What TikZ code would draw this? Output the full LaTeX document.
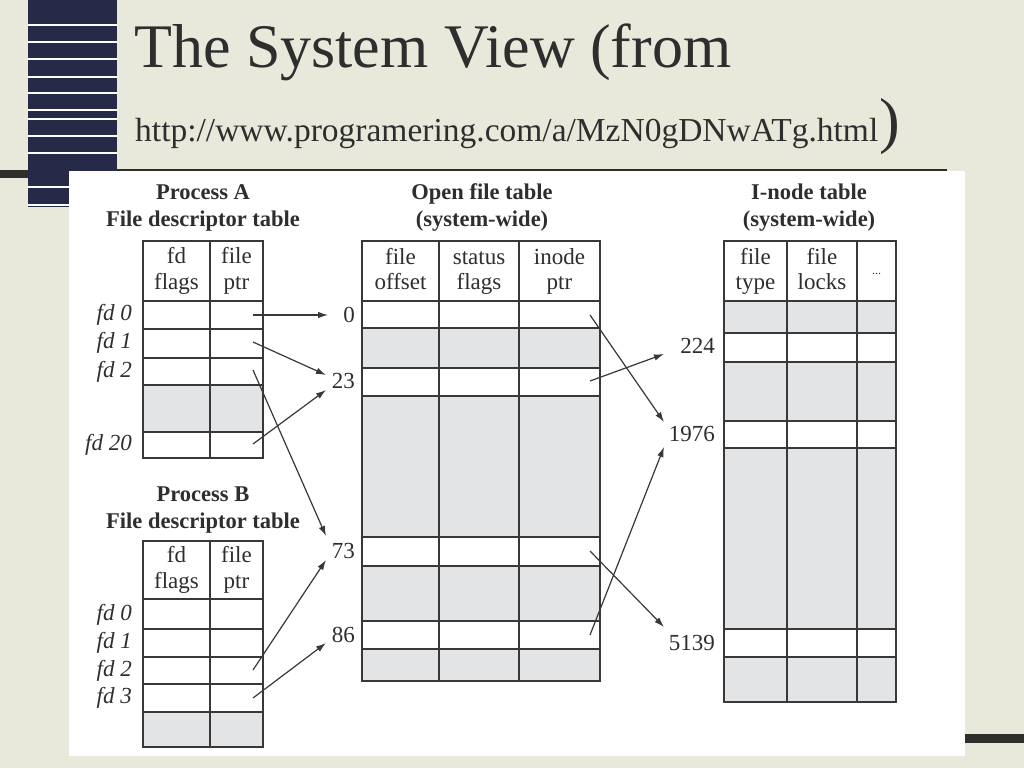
\documentclass[tikz,border=0pt]{standalone}
\usepackage{fontspec}
\newfontfamily\titlefont{Liberation Serif}
\newfontfamily\bodyfont{Liberation Serif}
\usetikzlibrary{arrows.meta}
\definecolor{bgbeige}{HTML}{E8E8DB}
\definecolor{navy}{HTML}{262A48}
\definecolor{ink}{HTML}{383838}
\definecolor{txt}{HTML}{2E2E2E}
\definecolor{cellgrey}{HTML}{E3E4E5}
\definecolor{darkline}{HTML}{2E2E2A}
\tikzset{
  grid/.style={draw=ink, line width=1.3pt},
  border/.style={draw=ink, line width=2.2pt},
  arr/.style={draw=ink, line width=1.2pt, -{Latex[length=10pt,width=6.5pt]}},
  ttl/.style={anchor=base, inner sep=0pt, text=txt, font=\bodyfont\fontsize{22.5}{24}\selectfont\bfseries},
  hd/.style={anchor=base, inner sep=0pt, text=txt, font=\bodyfont\fontsize{23}{25}\selectfont},
  fdl/.style={anchor=base east, inner sep=0pt, text=txt, font=\bodyfont\fontsize{23}{25}\selectfont\itshape},
  num/.style={anchor=base east, inner sep=0pt, text=txt, font=\bodyfont\fontsize{23}{25}\selectfont},
}
\begin{document}
\begin{tikzpicture}[x=1pt,y=-1pt]
\useasboundingbox (0,0) rectangle (1024,768);
% slide background
\fill[bgbeige] (0,0) rectangle (1024,768);
\fill[navy] (28,0) rectangle (117,207);
\foreach \y in {25,42,59,77,93,110,119,136,153,187,205}
  \draw[white, line width=1.2pt] (28,\y) -- (117,\y);
\fill[darkline] (0,170) rectangle (28,178);
\draw[darkline, line width=2pt] (117,170) -- (947,170);
\fill[white] (69,171) rectangle (965,756);
\fill[darkline] (965,734) rectangle (1024,743);
% title
\node[anchor=base west, inner sep=0pt, text=txt, font=\titlefont\fontsize{62}{62}\selectfont] (title) at (134,67) {The System View (from};
\node[anchor=base west, inner sep=0pt, text=txt, font=\titlefont\fontsize{33.5}{34}\selectfont] (url) at (135,141) {http://www.programering.com/a/MzN0gDNwATg.html};
\node[anchor=base west, inner sep=0pt, text=txt, font=\titlefont\fontsize{62}{62}\selectfont, xshift=1pt] (paren) at (url.base east) {)};

% ---------- Process A ----------
\node[ttl] (pA) at (203,199) {Process A};
\node[ttl] (pAt) at (203,226) {File descriptor table};
\fill[white] (143,241) rectangle (263,458);
\fill[cellgrey] (143,385) rectangle (263,432);
\draw[grid] (210,241) -- (210,458);
\foreach \y in {329,358,385,432} \draw[grid] (143,\y) -- (263,\y);
\draw[border] (143,301) -- (263,301);
\draw[border] (143,241) rectangle (263,458);
\node[hd] (pAh1a) at (176.5,263) {fd};
\node[hd] (pAh1b) at (176.5,289) {flags};
\node[hd] (pAh2a) at (236.5,263) {file};
\node[hd] (pAh2b) at (236.5,289) {ptr};
\node[fdl] (pAf0) at (132,320) {fd 0};
\node[fdl] (pAf1) at (132,348) {fd 1};
\node[fdl] (pAf2) at (132,377) {fd 2};
\node[fdl] (pAf20) at (132,450) {fd 20};

% ---------- Process B ----------
\node[ttl] (pB) at (203,501) {Process B};
\node[ttl] (pBt) at (203,528) {File descriptor table};
\fill[white] (143,541) rectangle (263,747);
\fill[cellgrey] (143,712) rectangle (263,747);
\draw[grid] (210,541) -- (210,747);
\foreach \y in {629,657,684,712} \draw[grid] (143,\y) -- (263,\y);
\draw[border] (143,599) -- (263,599);
\draw[border] (143,541) rectangle (263,747);
\node[hd] (pBh1a) at (176.5,562.5) {fd};
\node[hd] (pBh1b) at (176.5,588) {flags};
\node[hd] (pBh2a) at (236.5,562.5) {file};
\node[hd] (pBh2b) at (236.5,588) {ptr};
\node[fdl] (pBf0) at (132,620) {fd 0};
\node[fdl] (pBf1) at (132,648) {fd 1};
\node[fdl] (pBf2) at (132,676) {fd 2};
\node[fdl] (pBf3) at (132,703) {fd 3};

% ---------- Open file table ----------
\node[ttl] (oT) at (482,199) {Open file table};
\node[ttl] (oTt) at (482,226) {(system-wide)};
\fill[white] (362,241) rectangle (600,681);
\fill[cellgrey] (362,328) rectangle (600,368);
\fill[cellgrey] (362,396) rectangle (600,537);
\fill[cellgrey] (362,566) rectangle (600,621);
\fill[cellgrey] (362,649) rectangle (600,681);
\draw[grid] (439,241) -- (439,681);
\draw[grid] (519,241) -- (519,681);
\foreach \y in {328,368,396,537,566,621,649} \draw[grid] (362,\y) -- (600,\y);
\draw[border] (362,301) -- (600,301);
\draw[border] (362,241) rectangle (600,681);
\node[hd] (oh1a) at (400.5,264) {file};
\node[hd] (oh1b) at (400.5,289) {offset};
\node[hd] (oh2a) at (479,264) {status};
\node[hd] (oh2b) at (479,289) {flags};
\node[hd] (oh3a) at (559.5,264) {inode};
\node[hd] (oh3b) at (559.5,289) {ptr};
\node[num] (n0) at (355,322) {0};
\node[num] (n23) at (355,388) {23};
\node[num] (n73) at (355,558) {73};
\node[num] (n86) at (355,642) {86};

% ---------- I-node table ----------
\node[ttl] (iT) at (809,199) {I-node table};
\node[ttl] (iTt) at (809,226) {(system-wide)};
\fill[white] (724,241) rectangle (896,702);
\fill[cellgrey] (724,301) rectangle (896,333);
\fill[cellgrey] (724,362) rectangle (896,421);
\fill[cellgrey] (724,448) rectangle (896,629);
\fill[cellgrey] (724,657) rectangle (896,702);
\draw[grid] (787,241) -- (787,702);
\draw[grid] (857,241) -- (857,702);
\foreach \y in {333,362,421,448,629,657} \draw[grid] (724,\y) -- (896,\y);
\draw[border] (724,301) -- (896,301);
\draw[border] (724,241) rectangle (896,702);
\node[hd] (ih1a) at (755.5,264) {file};
\node[hd] (ih1b) at (755.5,289) {type};
\node[hd] (ih2a) at (822,264) {file};
\node[hd] (ih2b) at (822,289) {locks};
\node[anchor=center, inner sep=0pt, text=txt, font=\bodyfont\fontsize{12}{12}\selectfont] (ih3) at (876.5,274) {...};
\node[num] (i224) at (715,353) {224};
\node[num] (i1976) at (715,441) {1976};
\node[num] (i5139) at (715,650) {5139};

% ---------- connectors ----------
\coordinate (sA0) at (253,315);  \coordinate (tA0) at (328,315);
\coordinate (sA1) at (253,342);  \coordinate (tA1) at (326,375);
\coordinate (sA2) at (253,370);  \coordinate (tA2) at (326,536);
\coordinate (sA20) at (253,444); \coordinate (tA20) at (326,390);
\coordinate (sB2) at (253,670);  \coordinate (tB2) at (326,560);
\coordinate (sB3) at (253,698);  \coordinate (tB3) at (326,643);
\coordinate (sO0) at (590,315);  \coordinate (tO0) at (664,422);
\coordinate (sO23) at (590,381); \coordinate (tO23) at (664,354);
\coordinate (sO73) at (590,551); \coordinate (tO73) at (664,627);
\coordinate (sO86) at (590,635); \coordinate (tO86) at (664,447);
\draw[arr] (sA0) -- (tA0);
\draw[arr] (sA1) -- (tA1);
\draw[arr] (sA2) -- (tA2);
\draw[arr] (sA20) -- (tA20);
\draw[arr] (sB2) -- (tB2);
\draw[arr] (sB3) -- (tB3);
\draw[arr] (sO0) -- (tO0);
\draw[arr] (sO23) -- (tO23);
\draw[arr] (sO73) -- (tO73);
\draw[arr] (sO86) -- (tO86);
\end{tikzpicture}
\end{document}
